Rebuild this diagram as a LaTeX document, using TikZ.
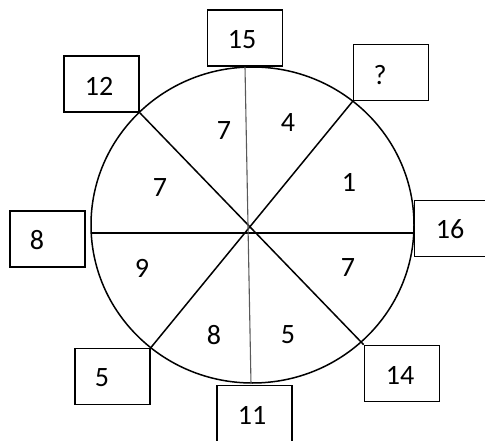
\documentclass[tikz,border=0pt]{standalone}
\usepackage{fontspec}
\setmainfont{Carlito}
\usetikzlibrary{positioning,calc}
\tikzset{
  numbox/.style={
    draw,
    line width=1.6pt,
    minimum width=75pt,
    minimum height=56pt,
    inner sep=0pt
  },
  numtxt/.style={
    inner sep=0pt,
    font=\fontsize{28}{32}\selectfont
  },
  spoke/.style={
    line width=1.5pt
  },
  thinspoke/.style={
    line width=1.1pt,
    draw=black!65
  },
  ring/.style={
    line width=1.5pt
  }
}

\begin{document}
\begin{tikzpicture}[x=1pt,y=-1pt]
    \useasboundingbox (0,0) rectangle (485,441);

    % outer boxes
    \node[numbox] (b12) at (101.5,84) {};
    \node[numbox] (b15) at (245,38) {};
    \node[numbox] (bq) at (391,72.5) {};
    \node[numbox] (b8) at (47.5,239) {};
    \node[numbox] (b16) at (452,228.5) {};
    \node[numbox] (b5) at (112.5,376.5) {};
    \node[numbox] (b14) at (402,373.5) {};
    \node[numbox] (b11) at (254.5,413.5) {};

    \node[numtxt] (t12) at (99,86) {12};
    \node[numtxt] (t15) at (242,40) {15};
    \node[numtxt] (tq) at (380,75) {?};
    \node[numtxt] (t8) at (37,240) {8};
    \node[numtxt] (t16) at (450,229) {16};
    \node[numtxt] (t5) at (102,378) {5};
    \node[numtxt] (t14) at (400,375) {14};
    \node[numtxt] (t11) at (252,415) {11};

    % circle and spokes
    \coordinate (c) at (249,229);
    \coordinate (hl) at (91,233);
    \coordinate (hr) at (414,233);
    \coordinate (vb) at (251,384);
    \draw[ring] (252.5,225) ellipse [x radius=161.5, y radius=158];
    \draw[spoke] (b12.south east) -- (b14.north west);
    \draw[spoke] (bq.south west) -- (b5.north east);
    \draw[spoke] (hl) -- (hr);
    \draw[thinspoke] (b15.south) -- (vb);

    % sector values
    \node[numtxt] (s1) at (224,131) {7};
    \node[numtxt] (s2) at (288,123) {4};
    \node[numtxt] (s3) at (349,182) {1};
    \node[numtxt] (s4) at (348,268) {7};
    \node[numtxt] (s5) at (288,335) {5};
    \node[numtxt] (s6) at (214,335) {8};
    \node[numtxt] (s7) at (142,268) {9};
    \node[numtxt] (s8) at (160,188) {7};
\end{tikzpicture}
\end{document}
